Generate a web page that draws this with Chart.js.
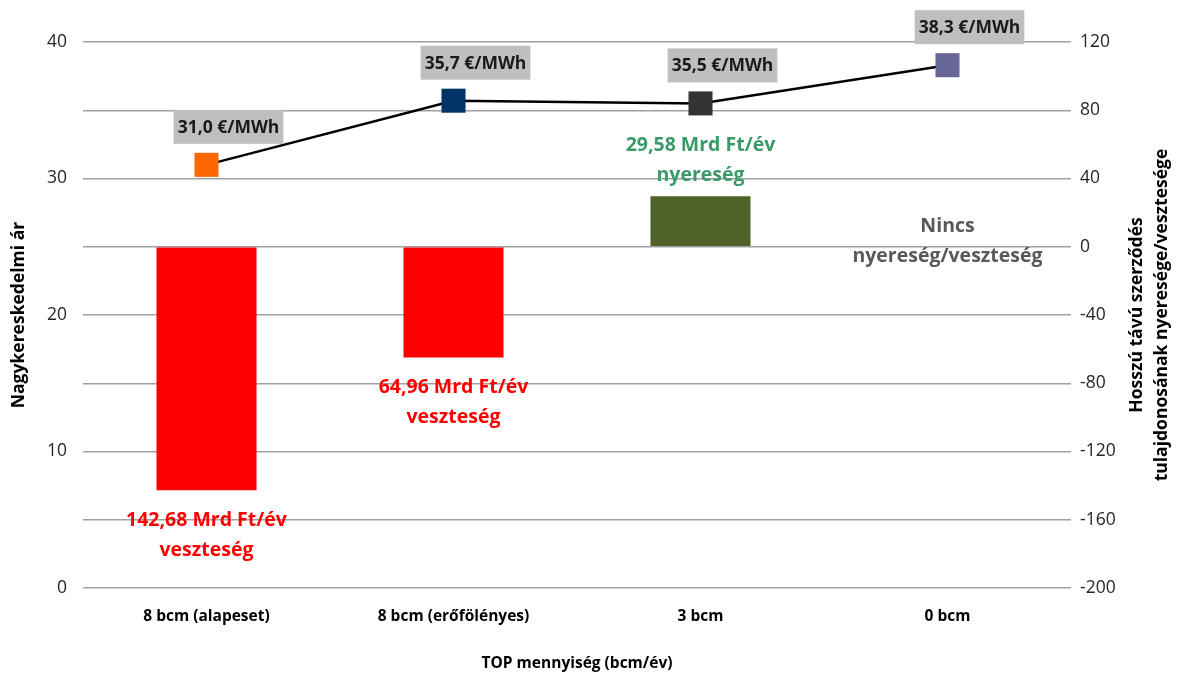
<!DOCTYPE html>
<html>
<head>
<meta charset="utf-8">
<script src="https://cdn.jsdelivr.net/npm/chart.js@4/dist/chart.umd.min.js"></script>
<style>
  html, body { margin: 0; padding: 0; background: #ffffff; }
  #wrap { width: 1180px; height: 675px; }
</style>
</head>
<body>
<div id="wrap"><canvas id="c" width="1180" height="675"></canvas></div>
<script>
// Scenarios on the x axis
const categories = ['8 bcm (alapeset)', '8 bcm (erőfölényes)', '3 bcm', '0 bcm'];
// Wholesale price, €/MWh (left axis)
const prices = [31.0, 35.7, 35.5, 38.3];
// Profit (+) / loss (-) of the long-term contract holder, Mrd Ft/év (right axis)
const profits = [-142.68, -64.96, 29.58, 0];
// Axis ranges and tick steps
const leftTicks = { min: 0, max: 40, step: 10 };
const rightTicks = { min: -200, max: 120, step: 40 };

const FONT = '"Open Sans", Lato, sans-serif';
const markerColors = ['#FF6600', '#003366', '#333333', '#666699'];
const barColors = profits.map(v => v < 0 ? '#FF0000' : '#4F6228');

const fmt = (v, d) => v.toFixed(d).replace('.', ',');

// Draws the price boxes, the profit/loss notes and the two vertical axis titles
const annotations = {
  id: 'annotations',
  afterDatasetsDraw(chart) {
    const ctx = chart.ctx;
    const area = chart.chartArea;
    const lineMeta = chart.getDatasetMeta(1);
    const barMeta = chart.getDatasetMeta(0);
    ctx.save();

    // Price labels in grey boxes above each marker
    ctx.font = 'bold 17.5px ' + FONT;
    ctx.textAlign = 'center';
    ctx.textBaseline = 'middle';
    lineMeta.data.forEach((pt, i) => {
      const text = fmt(prices[i], 1) + ' €/MWh';
      const w = ctx.measureText(text).width + 8;
      const h = 34;
      const cx = pt.x + 22;
      const cy = pt.y - 38;
      ctx.fillStyle = '#BFBFBF';
      ctx.fillRect(cx - w / 2, cy - h / 2, w, h);
      ctx.fillStyle = '#1a1a1a';
      ctx.fillText(text, cx, cy + 1);
    });

    // Profit / loss notes next to the bars
    ctx.font = 'bold 19.5px ' + FONT;
    const zeroY = chart.scales.y2.getPixelForValue(0);
    barMeta.data.forEach((bar, i) => {
      const v = profits[i];
      let lines, color, y1;
      if (v < 0) {
        lines = [fmt(-v, 2) + ' Mrd Ft/év', 'veszteség'];
        color = '#FF0000';
        y1 = bar.y + 30;
      } else if (v > 0) {
        lines = [fmt(v, 2) + ' Mrd Ft/év', 'nyereség'];
        color = '#3A9A6A';
        y1 = bar.y - 51;
      } else {
        lines = ['Nincs', 'nyereség/veszteség'];
        color = '#595959';
        y1 = zeroY - 20;
      }
      ctx.fillStyle = color;
      lines.forEach((t, k) => ctx.fillText(t, bar.x, y1 + k * 30));
    });

    // Left axis title (reads bottom to top)
    const midY = (area.top + area.bottom) / 2;
    ctx.fillStyle = '#000000';
    ctx.font = 'bold 17.5px ' + FONT;
    ctx.save();
    ctx.translate(19, midY);
    ctx.rotate(-Math.PI / 2);
    ctx.fillText('Nagykereskedelmi ár', 0, 0);
    ctx.restore();

    // Right axis title, two lines (reads bottom to top)
    ctx.save();
    ctx.translate(1137, midY);
    ctx.rotate(-Math.PI / 2);
    ctx.fillText('Hosszú távú szerződés', 0, 0);
    ctx.fillText('tulajdonosának nyeresége/vesztesége', 0, 25);
    ctx.restore();

    ctx.restore();
  }
};

new Chart(document.getElementById('c'), {
  data: {
    labels: categories,
    datasets: [
      {
        type: 'bar',
        data: profits,
        yAxisID: 'y2',
        backgroundColor: barColors,
        borderWidth: 0,
        categoryPercentage: 1,
        barPercentage: 0.405,
        order: 2
      },
      {
        type: 'line',
        data: prices,
        yAxisID: 'y',
        borderColor: '#000000',
        borderWidth: 2.5,
        pointStyle: 'rect',
        pointRadius: 17,
        pointHoverRadius: 17,
        pointBorderWidth: 0,
        pointBackgroundColor: markerColors,
        pointBorderColor: markerColors,
        tension: 0,
        order: 1
      }
    ]
  },
  options: {
    responsive: false,
    animation: false,
    events: [],
    layout: { padding: { top: 42, left: 0, right: 0, bottom: 0 } },
    plugins: {
      legend: { display: false },
      tooltip: { enabled: false }
    },
    scales: {
      x: {
        grid: { display: false, drawTicks: false },
        border: { display: false },
        ticks: {
          color: '#000000',
          font: { family: FONT, size: 15.5, weight: 'bold' },
          padding: 19
        },
        title: {
          display: true,
          text: 'TOP mennyiség (bcm/év)',
          color: '#000000',
          font: { family: FONT, size: 15.5, weight: 'bold' },
          padding: { top: 20, bottom: 2 }
        },
        afterFit(s) { s.height = 87; }
      },
      y: {
        position: 'left',
        min: leftTicks.min,
        max: leftTicks.max,
        ticks: {
          stepSize: leftTicks.step,
          color: '#262626',
          font: { family: FONT, size: 17.5 },
          padding: 16
        },
        grid: { display: false, drawTicks: false },
        border: { display: false },
        afterFit(s) { s.width = 83; }
      },
      y2: {
        position: 'right',
        min: rightTicks.min,
        max: rightTicks.max,
        ticks: {
          stepSize: rightTicks.step,
          color: '#262626',
          font: { family: FONT, size: 17.5 },
          padding: 9
        },
        grid: { color: '#A0A0A0', lineWidth: 1.5, drawTicks: false },
        border: { display: false },
        afterFit(s) { s.width = 109; }
      }
    }
  },
  plugins: [annotations]
});
</script>
</body>
</html>
